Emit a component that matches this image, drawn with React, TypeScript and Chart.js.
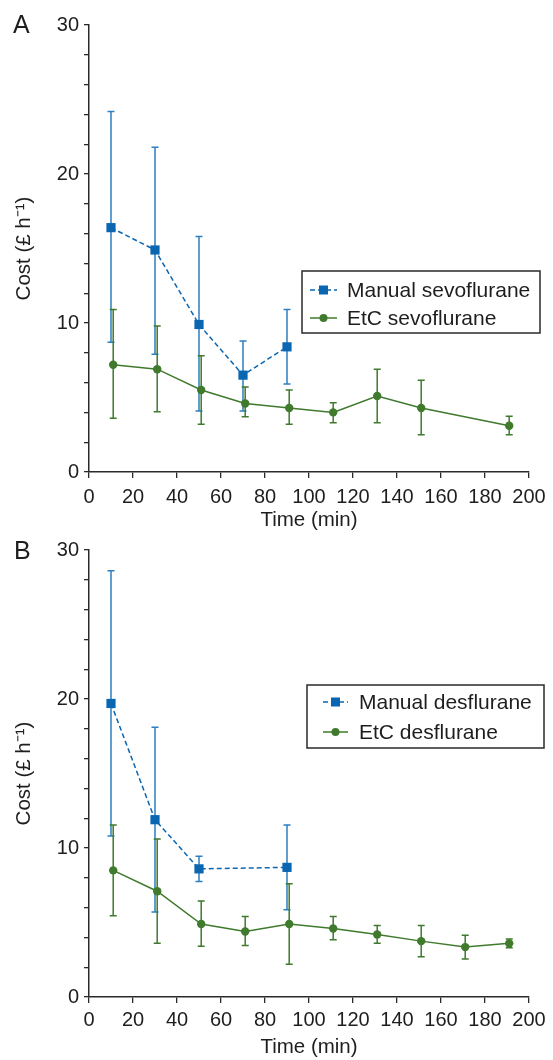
import React, { useEffect, useRef } from 'react';
import { Chart, registerables } from 'chart.js';
Chart.register(...registerables);

// ---------- data ----------
const sevoManualX = [10, 30, 50, 70, 90];
const sevoManualMean = [16.4, 14.9, 9.9, 6.5, 8.4];
const sevoManualLow = [8.7, 7.9, 4.1, 4.1, 5.9];
const sevoManualHigh = [24.2, 21.8, 15.8, 8.8, 10.9];

const sevoEtcX = [11, 31, 51, 71, 91, 111, 131, 151, 191];
const sevoEtcMean = [7.2, 6.9, 5.5, 4.6, 4.3, 4.0, 5.1, 4.3, 3.1];
const sevoEtcLow = [3.6, 4.05, 3.2, 3.7, 3.2, 3.3, 3.3, 2.5, 2.5];
const sevoEtcHigh = [10.9, 9.8, 7.8, 5.7, 5.5, 4.65, 6.9, 6.15, 3.75];

const desManualX = [10, 30, 50, 90];
const desManualMean = [19.7, 11.9, 8.6, 8.7];
const desManualLow = [10.8, 5.7, 7.75, 5.85];
const desManualHigh = [28.6, 18.1, 9.45, 11.55];

const desEtcX = [11, 31, 51, 71, 91, 111, 131, 151, 171, 191];
const desEtcMean = [8.5, 7.1, 4.9, 4.4, 4.9, 4.6, 4.2, 3.75, 3.35, 3.6];
const desEtcLow = [5.45, 3.6, 3.4, 3.45, 2.2, 3.85, 3.6, 2.7, 2.55, 3.3];
const desEtcHigh = [11.55, 10.6, 6.45, 5.4, 7.6, 5.4, 4.8, 4.8, 4.15, 3.9];

const xTickStep = 20;
const yTickStep = 2;
const yLabelStep = 10;

// ---------- styles ----------
const FONT = "'Liberation Sans', Arial, Helvetica, sans-serif";
const BLUE = '#0b66b1';
const BLUE_ERR = '#2c7fc3';
const GREEN = '#3f7a2d';
const AXIS = '#2a2a2a';
const TEXT = '#1e1e1e';

const errorBarPlugin = {
  id: 'errorBars',
  beforeDatasetsDraw(chart: any) {
    const { ctx } = chart;
    const x = chart.scales.x;
    const y = chart.scales.y;
    chart.data.datasets.forEach((ds: any) => {
      if (!ds.errLow) return;
      ctx.save();
      ctx.strokeStyle = ds.errColor;
      ctx.lineWidth = 1.5;
      ds.data.forEach((p: any, j: number) => {
        const px = x.getPixelForValue(p.x);
        const yl = y.getPixelForValue(ds.errLow[j]);
        const yh = y.getPixelForValue(ds.errHigh[j]);
        ctx.beginPath();
        ctx.moveTo(px, yl);
        ctx.lineTo(px, yh);
        ctx.moveTo(px - 3.5, yl);
        ctx.lineTo(px + 3.5, yl);
        ctx.moveTo(px - 3.5, yh);
        ctx.lineTo(px + 3.5, yh);
        ctx.stroke();
      });
      ctx.restore();
    });
  },
};

const boxLegendPlugin = {
  id: 'boxLegend',
  afterDraw(chart: any, _args: any, opts: any) {
    if (!opts || !opts.items) return;
    const { ctx, chartArea } = chart;
    const bx = chartArea.left + opts.dx;
    const by = chartArea.top + opts.dy;
    ctx.save();
    ctx.fillStyle = '#fff';
    ctx.fillRect(bx, by, opts.w, opts.h);
    ctx.strokeStyle = AXIS;
    ctx.lineWidth = 1.5;
    ctx.strokeRect(bx, by, opts.w, opts.h);
    opts.items.forEach((it: any, i: number) => {
      const cy = by + opts.rows[i];
      ctx.strokeStyle = it.color;
      ctx.lineWidth = 1.5;
      ctx.setLineDash(it.dash || []);
      ctx.beginPath();
      ctx.moveTo(bx + opts.s0, cy);
      ctx.lineTo(bx + opts.s1, cy);
      ctx.stroke();
      ctx.setLineDash([]);
      ctx.fillStyle = it.color;
      const mx = bx + (opts.s0 + opts.s1) / 2;
      if (it.shape === 'rect') {
        ctx.fillRect(mx - 4.5, cy - 4.5, 9, 9);
      } else {
        ctx.beginPath();
        ctx.arc(mx, cy, 4, 0, Math.PI * 2);
        ctx.fill();
      }
      ctx.fillStyle = TEXT;
      ctx.font = `21px ${FONT}`;
      ctx.textBaseline = 'middle';
      ctx.textAlign = 'left';
      ctx.fillText(it.label, bx + opts.tx, cy + 1);
    });
    ctx.restore();
  },
};

const panelLetterPlugin = {
  id: 'panelLetter',
  afterDraw(chart: any, _args: any, opts: any) {
    if (!opts || !opts.text) return;
    const { ctx } = chart;
    ctx.save();
    ctx.fillStyle = TEXT;
    ctx.font = `25px ${FONT}`;
    ctx.textBaseline = 'alphabetic';
    ctx.textAlign = 'left';
    ctx.fillText(opts.text, opts.x, opts.y);
    ctx.restore();
  },
};

function toPts(xs: number[], ys: number[]) {
  return xs.map((x, i) => ({ x, y: ys[i] }));
}

function buildConfig(p: any) {
  return {
    type: 'line',
    data: {
      datasets: [
        {
          label: p.manualLabel,
          data: toPts(p.mX, p.mMean),
          errLow: p.mLow,
          errHigh: p.mHigh,
          errColor: BLUE_ERR,
          borderColor: BLUE,
          backgroundColor: BLUE,
          borderWidth: 1.5,
          borderDash: [5, 3],
          pointStyle: 'rect',
          pointRadius: 6.5,
          pointBorderWidth: 0,
          tension: 0,
        },
        {
          label: p.etcLabel,
          data: toPts(p.eX, p.eMean),
          errLow: p.eLow,
          errHigh: p.eHigh,
          errColor: GREEN,
          borderColor: GREEN,
          backgroundColor: GREEN,
          borderWidth: 1.5,
          pointStyle: 'circle',
          pointRadius: 4.2,
          pointBorderWidth: 0,
          tension: 0,
        },
      ],
    },
    options: {
      responsive: true,
      maintainAspectRatio: false,
      animation: false,
      layout: { padding: { left: 0, top: p.top, right: 24, bottom: 0 } },
      plugins: {
        legend: { display: false },
        tooltip: { enabled: false },
        boxLegend: p.legend,
        panelLetter: p.letter,
      },
      scales: {
        x: {
          type: 'linear',
          min: 0,
          max: 200,
          afterFit: (s: any) => {
            s.height = p.xAxisH;
          },
          ticks: {
            stepSize: xTickStep,
            color: TEXT,
            font: { family: FONT, size: 20 },
            padding: p.xTickPad,
            maxRotation: 0,
            autoSkip: false,
          },
          grid: {
            drawOnChartArea: false,
            drawTicks: true,
            tickLength: 6,
            color: AXIS,
            lineWidth: 1.3,
          },
          border: { display: true, color: AXIS, width: 1.5 },
          title: {
            display: true,
            text: 'Time (min)',
            color: TEXT,
            font: { family: FONT, size: 20.5 },
            padding: { top: 0, bottom: 0 },
          },
        },
        y: {
          type: 'linear',
          min: 0,
          max: 30,
          afterFit: (s: any) => {
            s.width = 89;
          },
          ticks: {
            stepSize: yTickStep,
            color: TEXT,
            font: { family: FONT, size: 20 },
            padding: 5,
            autoSkip: false,
            callback: (v: any) => (Number(v) % yLabelStep === 0 ? String(v) : ''),
          },
          grid: {
            drawOnChartArea: false,
            drawTicks: true,
            tickLength: 5,
            color: AXIS,
            lineWidth: 1.3,
          },
          border: { display: true, color: AXIS, width: 1.5 },
          title: {
            display: true,
            text: 'Cost (£ h\u207B\u00B9)',
            color: TEXT,
            font: { family: FONT, size: 20.5 },
            padding: { top: 12, bottom: 0 },
          },
        },
      },
    },
    plugins: [errorBarPlugin, boxLegendPlugin, panelLetterPlugin],
  };
}

function Panel(props: { cfg: any; height: number }) {
  const ref = useRef<HTMLCanvasElement>(null);
  useEffect(() => {
    if (!ref.current) return;
    const chart = new Chart(ref.current, props.cfg);
    return () => chart.destroy();
  }, []);
  return (
    <div style={{ position: 'relative', width: 553, height: props.height }}>
      <canvas ref={ref} />
    </div>
  );
}

export default function App() {
  useEffect(() => {
    document.body.style.margin = '0';
  }, []);
  const cfgA = buildConfig({
    manualLabel: 'Manual sevoflurane',
    etcLabel: 'EtC sevoflurane',
    mX: sevoManualX,
    mMean: sevoManualMean,
    mLow: sevoManualLow,
    mHigh: sevoManualHigh,
    eX: sevoEtcX,
    eMean: sevoEtcMean,
    eLow: sevoEtcLow,
    eHigh: sevoEtcHigh,
    top: 25,
    xAxisH: 61,
    xTickPad: 7,
    legend: {
      dx: 213,
      dy: 246,
      w: 238,
      h: 62,
      rows: [19, 47],
      s0: 8,
      s1: 35,
      tx: 45,
      items: [
        { label: 'Manual sevoflurane', color: BLUE, dash: [5, 3], shape: 'rect' },
        { label: 'EtC sevoflurane', color: GREEN, shape: 'circle' },
      ],
    },
    letter: { text: 'A', x: 13, y: 33 },
  });
  const cfgB = buildConfig({
    manualLabel: 'Manual desflurane',
    etcLabel: 'EtC desflurane',
    mX: desManualX,
    mMean: desManualMean,
    mLow: desManualLow,
    mHigh: desManualHigh,
    eX: desEtcX,
    eMean: desEtcMean,
    eLow: desEtcLow,
    eHigh: desEtcHigh,
    top: 17,
    xAxisH: 63,
    xTickPad: 5,
    legend: {
      dx: 218,
      dy: 135,
      w: 237,
      h: 63,
      rows: [17, 47],
      s0: 16,
      s1: 41,
      tx: 52,
      items: [
        { label: 'Manual desflurane', color: BLUE, dash: [5, 3], shape: 'rect' },
        { label: 'EtC desflurane', color: GREEN, shape: 'circle' },
      ],
    },
    letter: { text: 'B', x: 14, y: 26 },
  });
  return (
    <div>
      <Panel cfg={cfgA} height={533} />
      <Panel cfg={cfgB} height={527} />
    </div>
  );
}
